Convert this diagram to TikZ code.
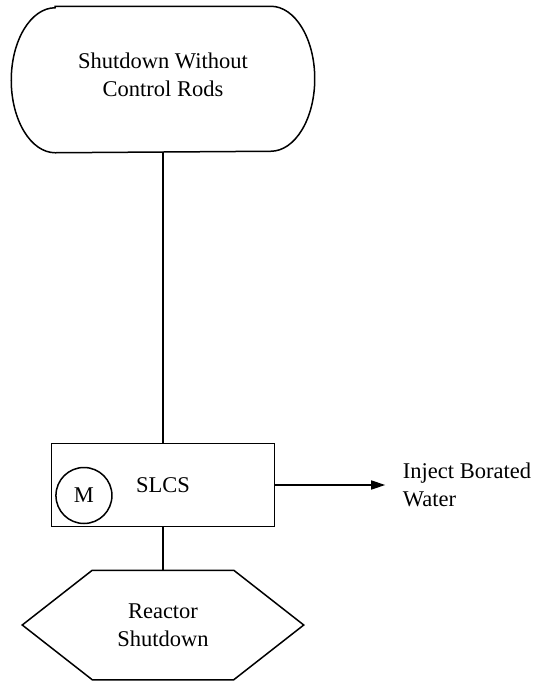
\documentclass[tikz,border=0pt]{standalone}
\usepackage{fontspec}
\setmainfont{Liberation Serif}
\usetikzlibrary{arrows.meta, positioning}

\begin{document}
\begin{tikzpicture}[
    node distance=21.5pt,
    line width=0.75pt,
    every node/.style={font=\fontsize{11.25pt}{14pt}\selectfont},
    terminal/.style={minimum width=151pt, minimum height=72.5pt, align=center, text depth=5pt},
    system/.style={draw, minimum width=111.5pt, minimum height=41.5pt},
    motor/.style={draw, circle, minimum size=28pt, inner sep=0pt},
    endstate/.style={minimum width=140pt, minimum height=54pt, align=center},
    flow/.style={-{Triangle[length=7pt, width=4.5pt]}}
]
    \useasboundingbox (-81.5pt,39.75pt) rectangle (184.5pt,-301.25pt);

    \node[terminal] (shutdown) at (0,0) {Shutdown Without\\Control Rods};
    \node[system, below=145pt of shutdown] (slcs) {SLCS};
    \node[motor] (motor) at ([shift={(16.6pt,-5.25pt)}]slcs.west) {M};
    \node[endstate, below=of slcs] (reactor) {Reactor\\Shutdown};
    \node[right=63.5pt of slcs, align=left, inner sep=0pt] (water) {Inject Borated\\Water};

    % stadium outline of the top event
    \draw ([xshift=22pt]shutdown.north west) -- ([xshift=-22pt]shutdown.north east)
        arc[start angle=90, end angle=-90, x radius=22pt, y radius=36.25pt]
        -- ([xshift=22pt]shutdown.south west)
        arc[start angle=270, end angle=90, x radius=22pt, y radius=36.25pt] -- cycle;

    % hexagon outline of the end state
    \draw ([xshift=35pt]reactor.north west) -- ([xshift=-35pt]reactor.north east)
        -- (reactor.east) -- ([xshift=-35pt]reactor.south east)
        -- ([xshift=35pt]reactor.south west) -- (reactor.west) -- cycle;

    \draw (shutdown) -- (slcs);
    \draw (slcs) -- (reactor);
    \draw[flow, shorten >=8.5pt] (slcs) -- (water);
\end{tikzpicture}
\end{document}
